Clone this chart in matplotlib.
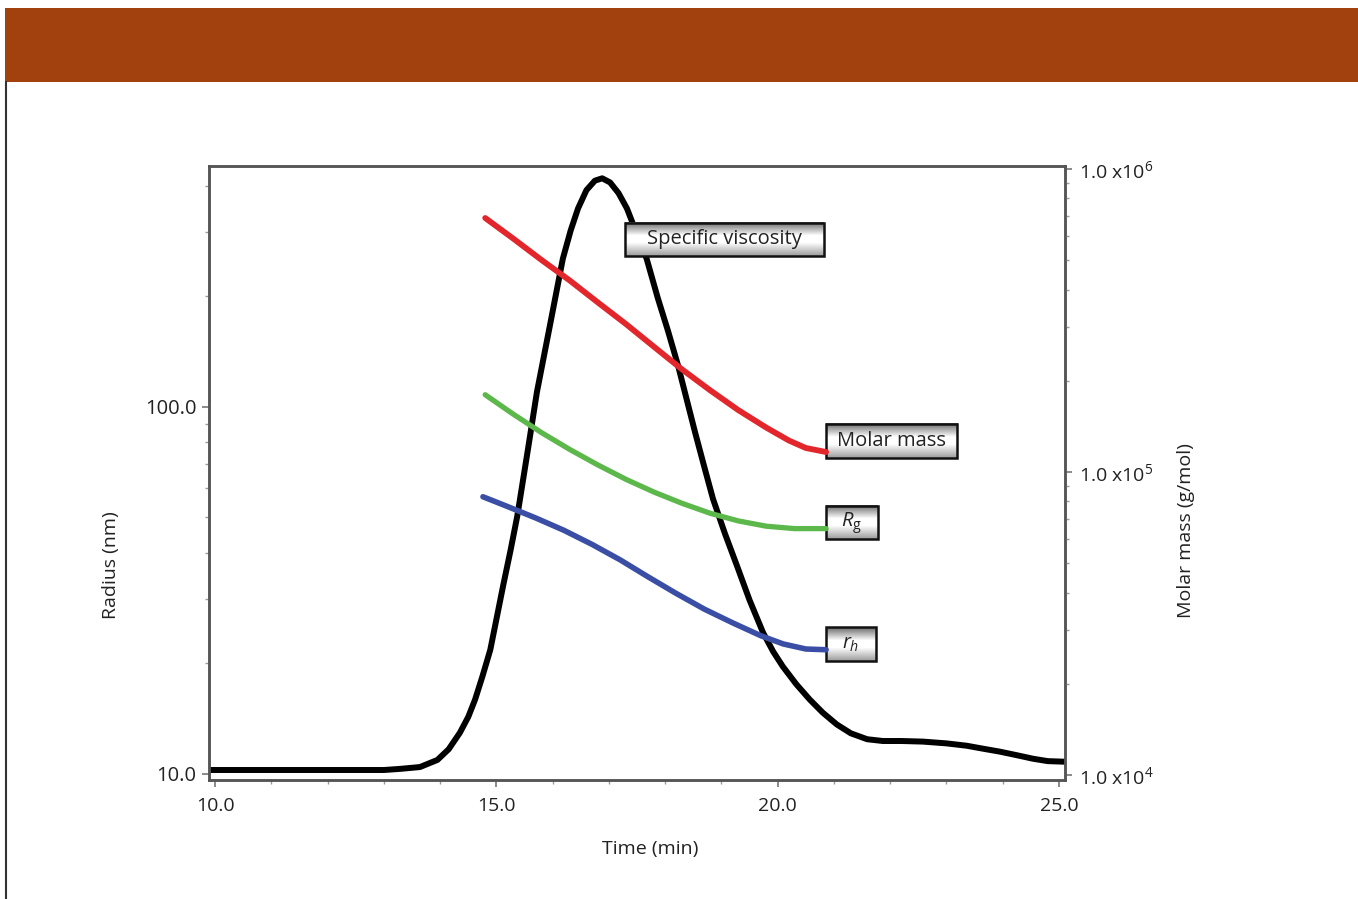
import numpy as np
import matplotlib
matplotlib.use("Agg")
import matplotlib.pyplot as plt
from matplotlib.patches import Rectangle
from matplotlib.ticker import NullFormatter, LogLocator, MultipleLocator

plt.rcParams['font.family'] = ['Open Sans', 'DejaVu Sans']
plt.rcParams['mathtext.fontset'] = 'custom'
plt.rcParams['mathtext.rm'] = 'Open Sans'
plt.rcParams['mathtext.it'] = 'Open Sans:italic'
plt.rcParams['mathtext.bf'] = 'Open Sans:bold'

# ---------------- data ----------------
# Specific viscosity (relative signal)
visc_t = [9.89, 13.0, 13.3, 13.64, 13.95, 14.15, 14.35, 14.5, 14.62, 14.75, 14.89, 15.0,
          15.12, 15.25, 15.37, 15.56, 15.72, 15.95, 16.18, 16.32, 16.45, 16.60, 16.75,
          16.88, 17.02, 17.17, 17.32, 17.50, 17.67, 17.87, 18.05, 18.23, 18.38, 18.53,
          18.69, 18.85, 19.06, 19.28, 19.50, 19.74, 19.92, 20.09, 20.33, 20.57, 20.80,
          21.05, 21.30, 21.59, 21.87, 22.20, 22.58, 23.00, 23.36, 23.65, 23.95, 24.25,
          24.54, 24.80, 25.10]
visc_s = [0.0, 0.0, 0.002, 0.005, 0.017, 0.035, 0.063, 0.090, 0.119, 0.158, 0.203, 0.255,
          0.312, 0.371, 0.429, 0.542, 0.639, 0.751, 0.864, 0.912, 0.949, 0.980, 0.996,
          1.0, 0.993, 0.975, 0.949, 0.905, 0.864, 0.797, 0.742, 0.683, 0.627, 0.571,
          0.514, 0.458, 0.400, 0.344, 0.287, 0.232, 0.200, 0.175, 0.145, 0.119, 0.097,
          0.077, 0.062, 0.052, 0.049, 0.049, 0.048, 0.045, 0.041, 0.036, 0.031, 0.025,
          0.019, 0.015, 0.014]

# Molar mass (g/mol)
mm_t = [14.80, 15.3, 15.8, 16.3, 16.8, 17.3, 17.8, 18.3, 18.8, 19.3, 19.8, 20.2, 20.5, 20.86]
mm_v = [6.89e5, 5.89e5, 5.01e5, 4.29e5, 3.63e5, 3.08e5, 2.59e5, 2.18e5, 1.86e5, 1.60e5,
        1.40e5, 1.27e5, 1.20e5, 1.164e5]

# Radius of gyration Rg (nm)
rg_t = [14.8, 15.3, 15.8, 16.3, 16.8, 17.3, 17.8, 18.3, 18.8, 19.3, 19.8, 20.3, 20.86]
rg_v = [107.9, 95.5, 85.1, 76.6, 69.5, 63.5, 58.6, 54.6, 51.3, 48.9, 47.3, 46.6, 46.6]

# Hydrodynamic radius rh (nm)
rh_t = [14.76, 15.2, 15.7, 16.2, 16.7, 17.2, 17.7, 18.2, 18.7, 19.2, 19.7, 20.1, 20.5, 20.86]
rh_v = [56.9, 53.5, 49.8, 46.1, 42.2, 38.3, 34.4, 31.0, 28.1, 25.8, 23.8, 22.6, 21.9, 21.8]

x_ticks = [10, 15, 20, 25]
x_ticklabels = ['10.0', '15.0', '20.0', '25.0']
r_ticks = [10, 100]
r_ticklabels = ['10.0', '100.0']
m_ticks = [1e4, 1e5, 1e6]
m_ticklabels = [r'1.0 x10$^{4}$', r'1.0 x10$^{5}$', r'1.0 x10$^{6}$']

# ---------------- figure ----------------
W, H = 1358, 899
fig = plt.figure(figsize=(W / 100, H / 100), dpi=100)
fig.patch.set_facecolor('white')

# header bar and left rule
fig.add_artist(Rectangle((5 / W, 1 - 82 / H), 1 - 5 / W, 74 / H, transform=fig.transFigure,
                         facecolor='#A2410E', edgecolor='none'))
fig.add_artist(plt.Line2D([5.5 / W, 5.5 / W], [0, 1 - 82 / H], transform=fig.transFigure,
                          color='#333333', lw=1.5))

rect = [209 / W, 1 - 780 / H, (1065 - 209) / W, (780 - 166) / H]
ax = fig.add_axes(rect)
ax3 = ax.twinx()
ax.set_zorder(ax3.get_zorder() + 1)
ax.patch.set_visible(False)
ax2 = ax.twinx()
ax2.set_zorder(ax.get_zorder() + 1)
ax2.patch.set_visible(False)

tc = '#222222'
spc = '#555555'

# black viscosity curve on hidden linear axis
ax3.plot(visc_t, visc_s, color='black', lw=4.3, solid_capstyle='round',
         solid_joinstyle='round', zorder=2)
ax3.axis('off')

# radius axis
ax.set_yscale('log')
ax.plot(rg_t, rg_v, color='#5cb84a', lw=3.8, solid_capstyle='round', solid_joinstyle='round')
ax.plot(rh_t, rh_v, color='#3b4ea6', lw=4.0, solid_capstyle='round', solid_joinstyle='round')
ax.set_xlim(9.89, 25.107)
ax.set_ylim(9.63, 453)

# molar mass axis
ax2.set_yscale('log')
ax2.plot(mm_t, mm_v, color='#e3262b', lw=4.2, solid_capstyle='round', solid_joinstyle='round')
ax2.set_ylim(9627, 1.023e6)

for a in (ax, ax2):
    for s in a.spines.values():
        s.set_color(spc)
        s.set_linewidth(1.8)

ax.set_xticks(x_ticks)
ax.set_xticklabels(x_ticklabels)
ax.xaxis.set_minor_locator(MultipleLocator(1))
ax.set_yticks(r_ticks)
ax.set_yticklabels(r_ticklabels)
ax.yaxis.set_minor_locator(LogLocator(base=10, subs=np.arange(2, 10)))
ax.yaxis.set_minor_formatter(NullFormatter())
ax2.set_yticks(m_ticks)
ax2.set_yticklabels(m_ticklabels)
ax2.yaxis.set_minor_locator(LogLocator(base=10, subs=np.arange(2, 10)))
ax2.yaxis.set_minor_formatter(NullFormatter())

ax.tick_params(axis='x', which='major', direction='out', length=5, width=1.2, color='#777777',
               labelsize=14, labelcolor=tc, pad=7)
ax.tick_params(axis='y', which='major', direction='out', length=5, width=1.2, color='#777777',
               labelsize=14.5, labelcolor=tc, pad=4)
ax.tick_params(which='minor', direction='out', length=3, width=1.0, color='#999999')
ax2.tick_params(which='major', direction='out', length=5, width=1.2, color='#777777',
                labelsize=14, labelcolor=tc, pad=5)
ax2.tick_params(which='minor', direction='out', length=3, width=1.0, color='#999999')

ax.set_xlabel('Time (min)', fontsize=14, color=tc, labelpad=18)
ax.xaxis.label.set_x(0.515)
ax.set_ylabel('Radius (nm)', fontsize=14, color=tc, labelpad=18)
ax.yaxis.label.set_y(0.35)
ax2.set_ylabel('Molar mass (g/mol)', fontsize=14, color=tc, labelpad=17)
ax2.yaxis.label.set_y(0.407)

# gradient label boxes
g = np.concatenate([np.linspace(0.42, 1.0, 14), np.linspace(1.0, 1.0, 6), np.linspace(1.0, 0.62, 14)])
grad = np.repeat(g[:, None], 4, axis=1)

boxes = [
    ('Specific viscosity', 17.29, 20.82, 0.869, 0.925),
    ('Molar mass', 20.86, 23.19, 0.527, 0.585),
    (r'$\mathit{R}_{\mathrm{g}}$', 20.86, 21.78, 0.390, 0.446),
    (r'$\mathit{r}_{\mathit{h}}$', 20.86, 21.75, 0.185, 0.242),
]
for label, x0, x1, y0, y1 in boxes:
    ax3.imshow(grad, extent=[x0, x1, y0, y1], cmap='gray', vmin=0, vmax=1,
               aspect='auto', interpolation='bilinear', zorder=5, origin='upper')
    ax3.add_patch(Rectangle((x0, y0), x1 - x0, y1 - y0, facecolor='none',
                            edgecolor='#111111', lw=1.8, zorder=6))
    ax3.text((x0 + x1) / 2, (y0 + y1) / 2, label, ha='center', va='center',
             fontsize=14.5, color=tc, zorder=7)
ax3.set_xlim(9.89, 25.107)
ax3.set_ylim(-0.0169, 1.0208)

fig.savefig('out.png', dpi=100)
